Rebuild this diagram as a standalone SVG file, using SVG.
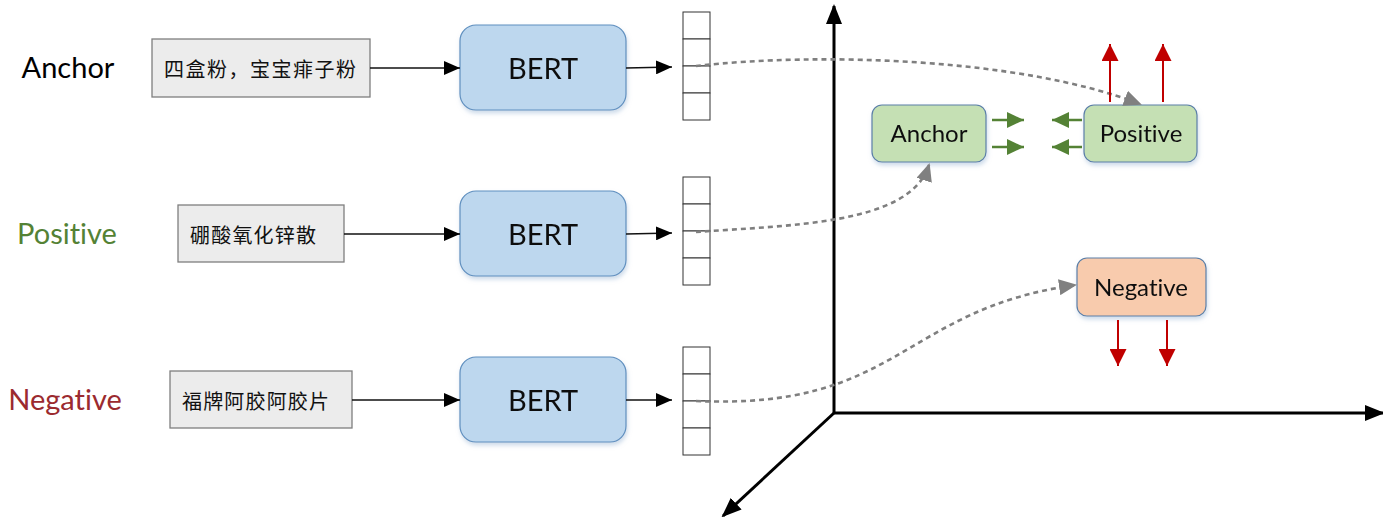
<svg xmlns="http://www.w3.org/2000/svg" width="1383" height="519" viewBox="0 0 1383 519">
<defs>
<style>
text{font-variant-ligatures:none;font-feature-settings:"liga" 0}
.lbl{font-family:Lato,"Liberation Sans",sans-serif;font-size:29px;text-anchor:middle;dominant-baseline:central}
.cn{font-family:"Noto Sans CJK SC","Noto Sans",sans-serif;font-size:20px;fill:#111;dominant-baseline:central}
.inbox{fill:#ececec;stroke:#7f7f7f;stroke-width:1.3}
.bert{fill:#bdd7ee;stroke:#5f8fbf;stroke-width:1.2}
.bt{font-family:Lato,"Liberation Sans",sans-serif;font-size:29px;fill:#111;text-anchor:middle;dominant-baseline:central}
.vec{fill:#fff;stroke:#333;stroke-width:1}
.ln{stroke:#111;stroke-width:1.3;fill:none}
.dash{stroke:#7f7f7f;stroke-width:2.6;stroke-dasharray:5,4;fill:none}
.axis{stroke:#000;stroke-width:3;fill:none}
.gnode{fill:#c5e0b4;stroke:#5b7fa8;stroke-width:1.2}
.rnode{fill:#f8cbad;stroke:#5b7fa8;stroke-width:1.2}
.nt{font-family:Lato,"Liberation Sans",sans-serif;font-size:24px;fill:#111;text-anchor:middle;dominant-baseline:central}
.garr{stroke:#548235;stroke-width:2.5;fill:none}
.rarr{stroke:#c00000;stroke-width:2;fill:none}
</style>
<filter id="sh" x="-10%" y="-10%" width="130%" height="140%">
<feDropShadow dx="1" dy="3" stdDeviation="2" flood-color="#9db7d5" flood-opacity="0.5"/>
</filter>
<marker id="mb" markerWidth="16" markerHeight="14" refX="16" refY="7" orient="auto" markerUnits="userSpaceOnUse">
<path d="M0,0 L16,7 L0,14 Z" fill="#000"/>
</marker>
<marker id="max" markerWidth="20" markerHeight="16" refX="18" refY="8" orient="auto" markerUnits="userSpaceOnUse">
<path d="M0,0 L20,8 L0,16 Z" fill="#000"/>
</marker>
<marker id="mg" markerWidth="18" markerHeight="16" refX="16" refY="8" orient="auto" markerUnits="userSpaceOnUse">
<path d="M0,0 L18,8 L0,16 Z" fill="#808080"/>
</marker>
<marker id="mgr" markerWidth="17" markerHeight="16" refX="17" refY="8" orient="auto" markerUnits="userSpaceOnUse">
<path d="M0,0 L17,8 L0,16 Z" fill="#548235"/>
</marker>
<marker id="mr" markerWidth="17" markerHeight="17" refX="17" refY="8.5" orient="auto" markerUnits="userSpaceOnUse">
<path d="M0,0 L17,8.5 L0,17 Z" fill="#c00000"/>
</marker>
</defs>
<rect width="1383" height="519" fill="#fff"/>

<g id="labels">
<text class="lbl" x="68" y="66" fill="#000">Anchor</text>
<text class="lbl" x="67" y="232" fill="#548235">Positive</text>
<text class="lbl" x="65" y="398" fill="#9b2a2f">Negative</text>
</g>

<g id="input-anchor"><rect class="inbox" x="152" y="39" width="218" height="58"/><text class="cn" x="164" y="68" textLength="192">四盒粉，宝宝痱子粉</text></g>
<g id="input-positive"><rect class="inbox" x="178" y="205" width="166" height="57"/><text class="cn" x="190" y="234" textLength="126">硼酸氧化锌散</text></g>
<g id="input-negative"><rect class="inbox" x="170" y="371" width="182" height="57"/><text class="cn" x="182" y="400" textLength="147">福牌阿胶阿胶片</text></g>

<g id="bert1" filter="url(#sh)"><rect class="bert" x="460" y="25" width="166" height="85" rx="16"/><text class="bt" x="543" y="67">BERT</text></g>
<g id="bert2" filter="url(#sh)"><rect class="bert" x="460" y="191" width="166" height="85" rx="16"/><text class="bt" x="543" y="233">BERT</text></g>
<g id="bert3" filter="url(#sh)"><rect class="bert" x="460" y="357" width="166" height="85" rx="16"/><text class="bt" x="543" y="399">BERT</text></g>

<g id="vec1"><rect class="vec" x="683" y="12" width="27" height="27"/><rect class="vec" x="683" y="39" width="27" height="27"/><rect class="vec" x="683" y="66" width="27" height="27"/><rect class="vec" x="683" y="93" width="27" height="27"/></g>
<g id="vec2"><rect class="vec" x="683" y="177" width="27" height="27"/><rect class="vec" x="683" y="204" width="27" height="27"/><rect class="vec" x="683" y="231" width="27" height="27"/><rect class="vec" x="683" y="258" width="27" height="27"/></g>
<g id="vec3"><rect class="vec" x="683" y="347" width="27" height="27"/><rect class="vec" x="683" y="374" width="27" height="27"/><rect class="vec" x="683" y="401" width="27" height="27"/><rect class="vec" x="683" y="428" width="27" height="27"/></g>

<g id="axes">
<line class="axis" x1="834" y1="413" x2="834" y2="6" marker-end="url(#max)"/>
<line class="axis" x1="834" y1="413" x2="1383" y2="413" marker-end="url(#max)"/>
<line class="axis" x1="834" y1="413" x2="723" y2="516" marker-end="url(#max)"/>
</g>

<g id="node-anchor" filter="url(#sh)"><rect class="gnode" x="872" y="105" width="114" height="57" rx="10"/><text class="nt" x="929" y="132">Anchor</text></g>
<g id="node-positive" filter="url(#sh)"><rect class="gnode" x="1084" y="105" width="113" height="57" rx="10"/><text class="nt" x="1141" y="132">Positive</text></g>
<g id="node-negative" filter="url(#sh)"><rect class="rnode" x="1077" y="258" width="129" height="58" rx="10"/><text class="nt" x="1141" y="286">Negative</text></g>

<g id="connectors">
<line class="ln" x1="370" y1="68" x2="460" y2="68" marker-end="url(#mb)"/>
<line class="ln" x1="344" y1="234" x2="460" y2="234" marker-end="url(#mb)"/>
<line class="ln" x1="352" y1="400" x2="460" y2="400" marker-end="url(#mb)"/>
<line class="ln" x1="626" y1="68" x2="672" y2="67" marker-end="url(#mb)"/>
<line class="ln" x1="626" y1="234" x2="672" y2="233" marker-end="url(#mb)"/>
<line class="ln" x1="626" y1="400" x2="672" y2="400" marker-end="url(#mb)"/>
<path class="dash" d="M696,66 C820,52 1020,58 1140,104" marker-end="url(#mg)"/>
<path class="dash" d="M696,232 C790,225 910,225 929,165" marker-end="url(#mg)"/>
<path class="dash" d="M696,401 C900,410 900,310 1075,285" marker-end="url(#mg)"/>
<line class="garr" x1="992" y1="120" x2="1024" y2="120" marker-end="url(#mgr)"/>
<line class="garr" x1="992" y1="147" x2="1024" y2="147" marker-end="url(#mgr)"/>
<line class="garr" x1="1082" y1="120" x2="1052" y2="120" marker-end="url(#mgr)"/>
<line class="garr" x1="1082" y1="147" x2="1052" y2="147" marker-end="url(#mgr)"/>
<line class="rarr" x1="1110" y1="102" x2="1110" y2="44" marker-end="url(#mr)"/>
<line class="rarr" x1="1163" y1="102" x2="1163" y2="44" marker-end="url(#mr)"/>
<line class="rarr" x1="1118" y1="320" x2="1118" y2="366" marker-end="url(#mr)"/>
<line class="rarr" x1="1167" y1="320" x2="1167" y2="366" marker-end="url(#mr)"/>
</g>
</svg>
